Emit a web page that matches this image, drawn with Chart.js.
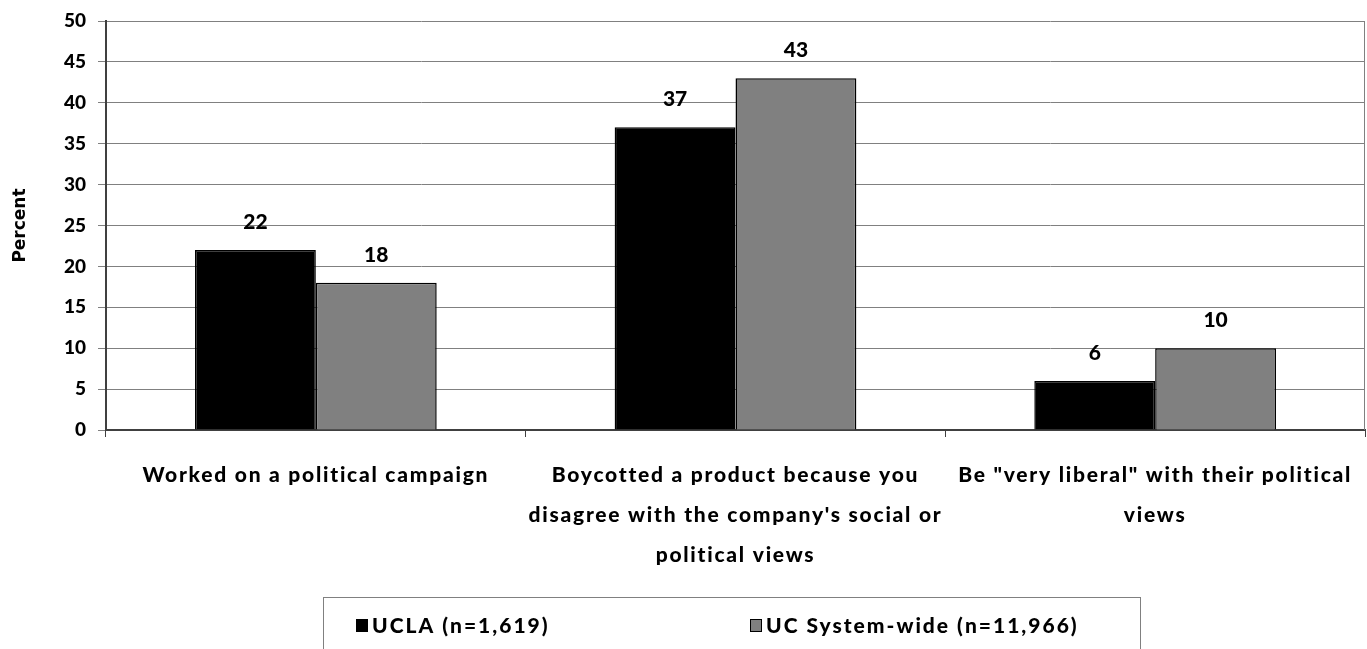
<!DOCTYPE html>
<html>
<head>
<meta charset="utf-8">
<script src="https://cdn.jsdelivr.net/npm/chart.js@4.4.0/dist/chart.umd.min.js"></script>
<style>
  html, body { margin: 0; padding: 0; background: #ffffff; }
  #wrap { width: 1367px; height: 649px; position: relative; }
</style>
</head>
<body>
<div id="wrap"><canvas id="c" width="1367" height="649"></canvas></div>
<script>
const categories = [
  ["Worked on a political campaign"],
  ["Boycotted a product because you", "disagree with the company's social or", "political views"],
  ["Be \"very liberal\" with their political", "views"]
];
const seriesNames = ["UCLA (n=1,619)", "UC System-wide (n=11,966)"];
const uclaValues = [22, 37, 6];
const ucSystemValues = [18, 43, 10];
const yTicks = [0, 5, 10, 15, 20, 25, 30, 35, 40, 45, 50];

const MAIN_FONT = "'Lato', 'Open Sans', sans-serif";

const decorPlugin = {
  id: 'decor',
  beforeDraw(chart) {
    const xs = chart.scales.x;
    if (xs && !xs._spaced) {
      const orig = xs.drawLabels.bind(xs);
      xs.drawLabels = function (area) {
        const ctx = chart.ctx;
        ctx.save();
        ctx.letterSpacing = '1.75px';
        orig(area);
        ctx.restore();
      };
      xs._spaced = true;
    }
  },
  afterDatasetsDraw(chart) {
    const ctx = chart.ctx;
    const area = chart.chartArea;
    ctx.save();
    ctx.strokeStyle = '#808080';
    ctx.lineWidth = 1;
    ctx.beginPath();
    ctx.moveTo(area.right - 0.5, area.top);
    ctx.lineTo(area.right - 0.5, area.bottom);
    ctx.stroke();
    ctx.fillStyle = '#000000';
    ctx.font = "900 21px " + MAIN_FONT;
    ctx.textAlign = 'center';
    ctx.textBaseline = 'middle';
    chart.data.datasets.forEach((ds, i) => {
      const meta = chart.getDatasetMeta(i);
      meta.data.forEach((bar, j) => {
        ctx.fillText(String(ds.data[j]), bar.x, bar.y - 28);
      });
    });
    ctx.restore();
  },
  afterDraw(chart) {
    const ctx = chart.ctx;
    const top = chart.chartArea.bottom + 167;
    ctx.save();
    ctx.strokeStyle = '#808080';
    ctx.lineWidth = 1;
    ctx.strokeRect(323.5, top + 0.5, 817, 80);
    ctx.font = "900 21px " + MAIN_FONT;
    ctx.letterSpacing = '2px';
    ctx.textBaseline = 'middle';
    ctx.textAlign = 'left';
    const itemX = [356, 750];
    const cy = top + 28;
    chart.data.datasets.forEach((ds, i) => {
      ctx.fillStyle = ds.backgroundColor;
      ctx.fillRect(itemX[i], cy - 6, 12, 13);
      ctx.strokeStyle = '#000000';
      ctx.lineWidth = 1;
      ctx.strokeRect(itemX[i] + 0.5, cy - 5.5, 11, 12);
      ctx.fillStyle = '#000000';
      ctx.fillText(ds.label, itemX[i] + 16, cy + 1);
    });
    ctx.restore();
  }
};

new Chart(document.getElementById('c'), {
  type: 'bar',
  data: {
    labels: categories,
    datasets: [
      {
        label: seriesNames[0],
        data: uclaValues,
        backgroundColor: '#000000',
        borderColor: '#000000',
        borderWidth: 1.5,
        categoryPercentage: 0.576,
        barPercentage: 1.0
      },
      {
        label: seriesNames[1],
        data: ucSystemValues,
        backgroundColor: '#808080',
        borderColor: '#000000',
        borderWidth: 1.5,
        categoryPercentage: 0.576,
        barPercentage: 1.0
      }
    ]
  },
  options: {
    responsive: false,
    animation: false,
    devicePixelRatio: 1,
    layout: { padding: { top: 19, right: 2, bottom: 74, left: 0 } },
    plugins: {
      legend: { display: false },
      tooltip: { enabled: false },
      title: { display: false }
    },
    scales: {
      x: {
        afterFit(scale) { scale.height = 145; },
        grid: {
          offset: true,
          drawOnChartArea: false,
          drawTicks: true,
          tickLength: 7,
          color: '#404040',
          lineWidth: 1
        },
        border: { display: true, color: '#404040', width: 2 },
        ticks: {
          color: '#000000',
          padding: 18,
          maxRotation: 0,
          autoSkip: false,
          font: { family: MAIN_FONT, size: 21, weight: '900', lineHeight: 40 / 21 }
        }
      },
      y: {
        min: 0,
        max: 50,
        afterBuildTicks(scale) {
          scale.ticks = yTicks.map(v => ({ value: v }));
        },
        afterFit(scale) { scale.width = 106; },
        grid: {
          color: '#808080',
          lineWidth: 1,
          tickLength: 8,
          drawTicks: true
        },
        border: { display: true, color: '#404040', width: 2 },
        ticks: {
          color: '#000000',
          padding: 12,
          font: { family: MAIN_FONT, size: 19, weight: '900', lineHeight: 0.95 }
        },
        title: {
          display: true,
          text: 'Percent',
          color: '#000000',
          padding: { top: 10, bottom: 4 },
          font: { family: "'DejaVu Sans', sans-serif", size: 17, weight: 'bold', lineHeight: 1.2 }
        }
      }
    }
  },
  plugins: [decorPlugin]
});
</script>
</body>
</html>
